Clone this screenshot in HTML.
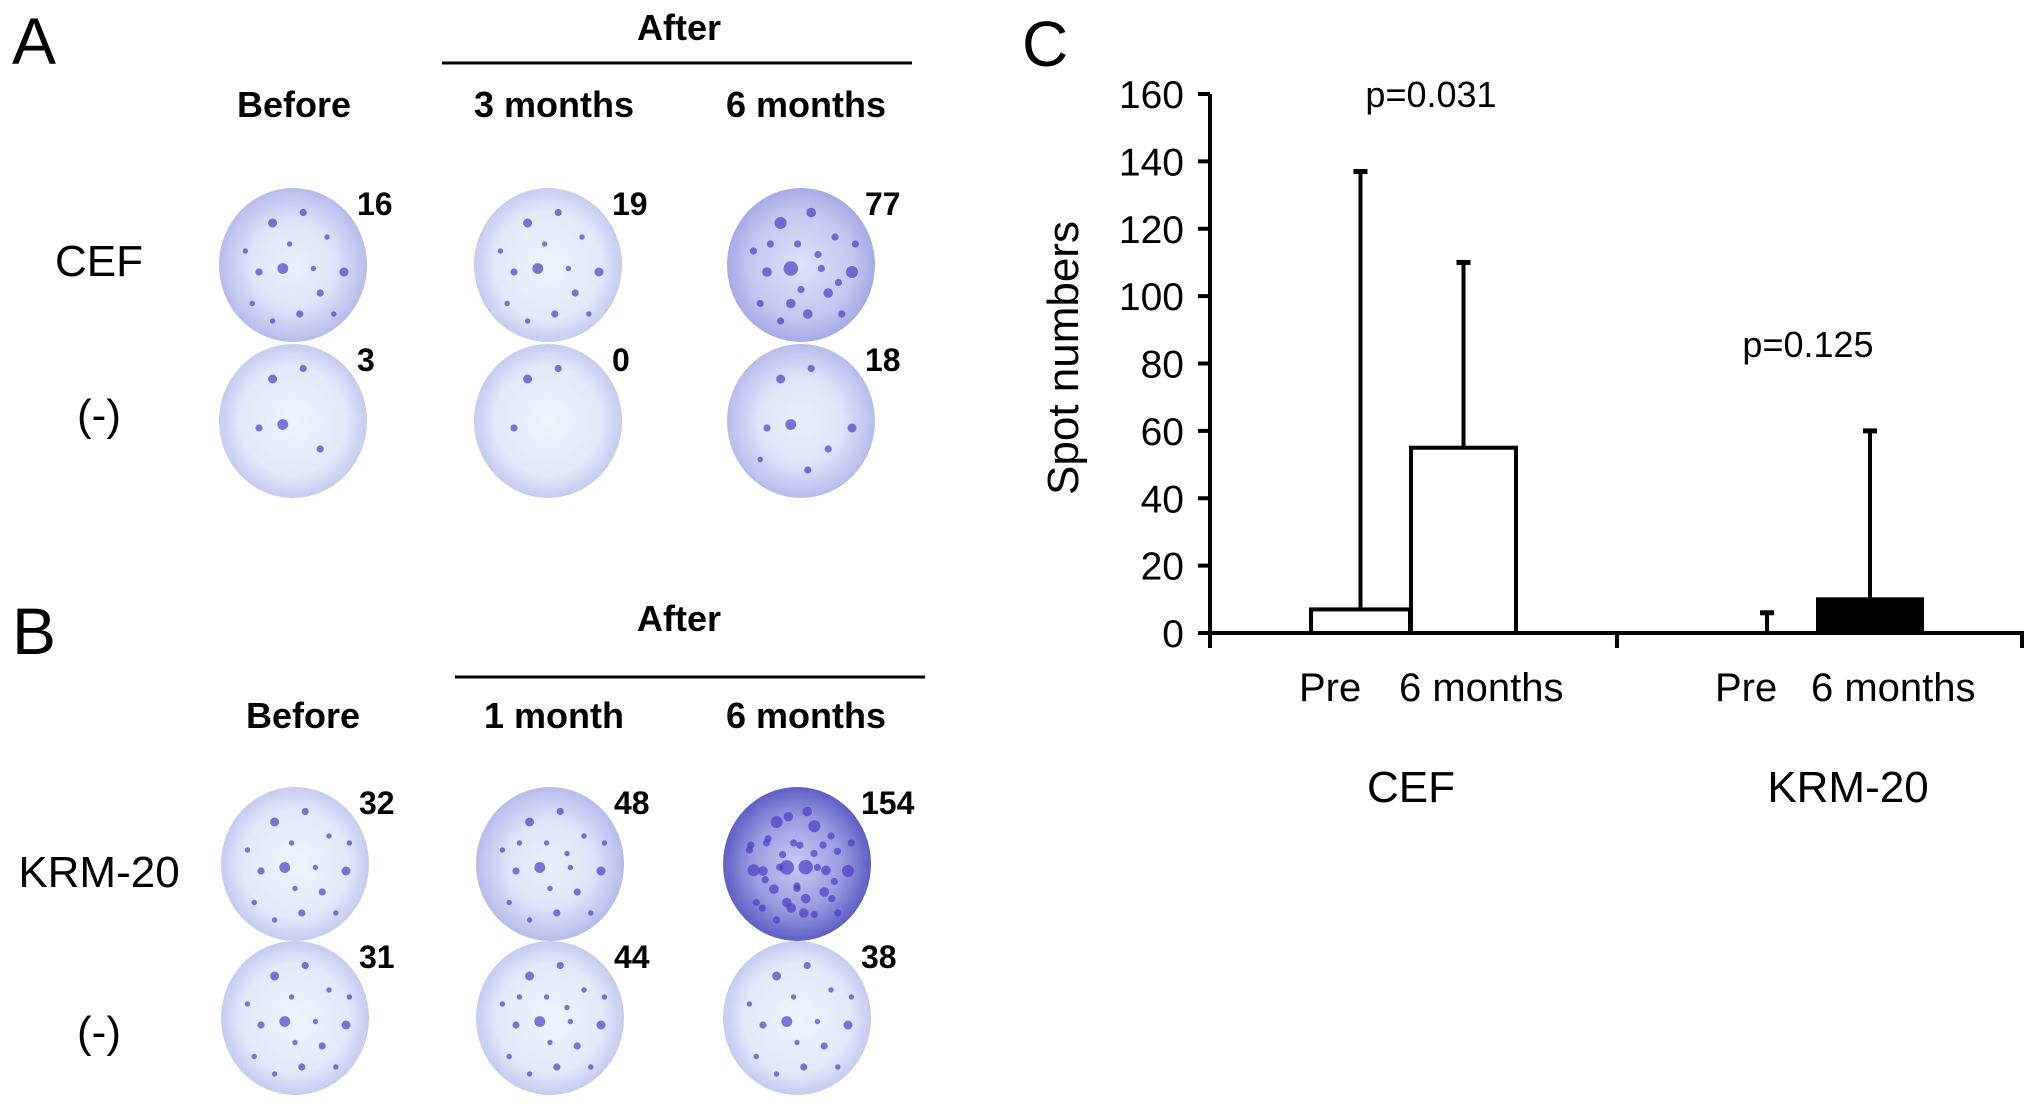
<!DOCTYPE html>
<html><head><meta charset="utf-8"><style>
html,body{margin:0;padding:0;background:#fff;}
svg{display:block;font-family:"Liberation Sans",Arial,sans-serif;}
</style></head><body>
<svg id="fig" width="2031" height="1116" viewBox="0 0 2031 1116" xmlns="http://www.w3.org/2000/svg">
<defs>
<radialGradient id="wellA" cx="50%" cy="50%" r="50%"><stop offset="0" stop-color="#e9f0fc"/><stop offset="0.55" stop-color="#dfe6fa"/><stop offset="0.85" stop-color="#c4caf0"/><stop offset="1" stop-color="#b6bcea"/></radialGradient>
<radialGradient id="wellL" cx="50%" cy="50%" r="50%"><stop offset="0" stop-color="#eef4fd"/><stop offset="0.7" stop-color="#e2eafb"/><stop offset="1" stop-color="#c6ccf0"/></radialGradient>
<radialGradient id="wellM" cx="50%" cy="50%" r="50%"><stop offset="0" stop-color="#dde3fa"/><stop offset="0.7" stop-color="#c2c7f0"/><stop offset="1" stop-color="#a6aae6"/></radialGradient>
<radialGradient id="wellD" cx="50%" cy="50%" r="50%"><stop offset="0" stop-color="#c6cbf2"/><stop offset="0.6" stop-color="#9a9ce0"/><stop offset="1" stop-color="#5e5fc6"/></radialGradient>
</defs>
<g id="panelAB"></g>
<g id="chart"></g>
</svg>
<script>
const NS="http://www.w3.org/2000/svg";
function mk(parent,tag,attrs,text){const e=document.createElementNS(NS,tag);for(const k in attrs)e.setAttribute(k,attrs[k]);if(text!==undefined)e.textContent=text;parent.appendChild(e);return e;}

// ---------- Panels A and B (wells) ----------
const P=document.getElementById('panelAB');
let t;
t=mk(P,'text',{x:12,y:64,'font-size':66});t.textContent='A';

t=mk(P,'text',{x:12,y:654,'font-size':66});t.textContent='B';


function header(y,afterY,lineY,x1,x2,cols,beforeX,pfx){
  let e=mk(P,'text',{x:679,y:afterY,'font-size':36,'font-weight':'bold','text-anchor':'middle'},'After');
  
  e=mk(P,'line',{x1:x1,x2:x2,y1:lineY,y2:lineY,stroke:'#000','stroke-width':3});
  
  e=mk(P,'text',{x:beforeX,y:y,'font-size':36,'font-weight':'bold','text-anchor':'middle'},'Before');
  
  e=mk(P,'text',{x:554,y:y,'font-size':36,'font-weight':'bold','text-anchor':'middle'},cols[0]);
  
  e=mk(P,'text',{x:806,y:y,'font-size':36,'font-weight':'bold','text-anchor':'middle'},cols[1]);
  
}
header(117,40,63,442,912,['3 months','6 months'],294,'a');
header(728,631,677,455,925,['1 month','6 months'],303,'b');

function rowLabel(txt,y,name){const e=mk(P,'text',{x:99,y:y,'font-size':44,'text-anchor':'middle'},txt);
  }
rowLabel('CEF',276,'a-cef-row-label');rowLabel('(-)',430,'a-neg-row-label');
rowLabel('KRM-20',887,'b-krm20-row-label');rowLabel('(-)',1047,'b-neg-row-label');

const spotPat=[[-.3,-.6,5],[.15,-.75,4],[-.5,.1,4],[-.15,.05,6],[.4,.4,4],[.75,.1,5],[-.6,.55,3],[.1,.7,4],[.5,-.4,3],[-.05,-.3,3],[.3,.05,3],[-.7,-.2,3],[.6,.7,3],[-.3,.8,3],[.0,.35,3],[.8,-.3,3],[-.45,-.3,3],[.25,-.15,3],[-.15,.55,4],[.55,.25,3]];
function well(cx,cy,grad,n,num,name,big){
  const g=mk(P,'g',{});
  
  mk(g,'ellipse',{cx:cx,cy:cy,rx:74,ry:77,fill:'url(#'+grad+')'});
  for(let i=0;i<n;i++){const s=spotPat[i%spotPat.length];const k=Math.floor(i/spotPat.length);
    const sx=s[0]*(k?-.85:1),sy=s[1]*(k?.9:1);
    mk(g,'circle',{cx:cx+sx*68,cy:cy+sy*70,r:s[2]*(big?1.2:0.9),fill:'#4a3fc4','fill-opacity':0.7});}
  const e=mk(P,'text',{x:cx+64,y:cy-50,'font-size':32,'font-weight':'bold'},num);
  
}
well(293,265,'wellA',14,'16','well-cef-before');
well(548,265,'wellL',14,'19','well-cef-3m');
well(801,265,'wellM',20,'77','well-cef-6m',true);
well(293,421,'wellL',5,'3','well-neg-before');
well(548,421,'wellL',3,'0','well-neg-3m');
well(801,421,'wellA',8,'18','well-neg-6m');
well(295,864,'wellL',16,'32','well-krm-before');
well(550,864,'wellA',18,'48','well-krm-1m');
well(797,864,'wellD',40,'154','well-krm-6m',true);
well(295,1018,'wellL',16,'31','well-krmneg-before');
well(550,1018,'wellL',18,'44','well-krmneg-1m');
well(797,1018,'wellL',16,'38','well-krmneg-6m');

// ---------- Panel C chart ----------
const groups=['CEF','KRM-20'];
const timepoints=['Pre','6 months'];
const means=[7,55,0,10];
const errTop=[137,110,6,60];
const fills=['#fff','#fff','#000','#000'];
const yTicks=[0,20,40,60,80,100,120,140,160];
const pValues=['p=0.031','p=0.125'];

const C=document.getElementById('chart');
const X0=1210,X1=2024,Y0=633,Y160=94;
const yScale=v=>Y0-(v/160)*(Y0-Y160);
const barLeft=[1311,1411,1717,1818];
const barW=[99,105,100,104];

t=mk(C,'text',{x:1022,y:66,'font-size':64},'C');


t=mk(C,'text',{x:0,y:0,'font-size':44,'text-anchor':'middle',transform:'translate(1078,358) rotate(-90)'},'Spot numbers');


let ax=mk(C,'line',{x1:X0,x2:X0,y1:Y160,y2:Y0+2,stroke:'#000','stroke-width':4});

ax=mk(C,'line',{x1:X0-2,x2:X1,y1:Y0,y2:Y0,stroke:'#000','stroke-width':4});

[X0,1617,X1-2].forEach((x,i)=>{const l=mk(C,'line',{x1:x,x2:x,y1:Y0,y2:Y0+15,stroke:'#000','stroke-width':4});
  });

yTicks.forEach(v=>{const y=yScale(v);
  const l=mk(C,'line',{x1:X0-12,x2:X0,y1:y,y2:y,stroke:'#000','stroke-width':4});
  
  const tx=mk(C,'text',{x:1184,y:y+14,'font-size':39,'text-anchor':'end'},String(v));
  });

means.forEach((m,i)=>{
  const x=barLeft[i],w=barW[i],y=yScale(m),ex=x+w/2;
  const e=mk(C,'line',{x1:ex,x2:ex,y1:yScale(errTop[i]),y2:y,stroke:'#000','stroke-width':4});
  
  const cap=mk(C,'line',{x1:ex-7,x2:ex+7,y1:yScale(errTop[i]),y2:yScale(errTop[i]),stroke:'#000','stroke-width':5});
  
  if(m>0){const r=mk(C,'rect',{x:x,y:y,width:w,height:Y0-y,fill:fills[i],stroke:'#000','stroke-width':4});
    
    }
});

const tpX=[[1299,1399],[1715,1811]];
groups.forEach((g,gi)=>{
  timepoints.forEach((tp,ti)=>{const e=mk(C,'text',{x:tpX[gi][ti],y:701,'font-size':40},tp);
    });
  const e=mk(C,'text',{x:gi?1848:1411,y:802,'font-size':44,'text-anchor':'middle'},g);
  
});
const pPos=[[1431,107],[1808,357]];
pValues.forEach((p,i)=>{const e=mk(C,'text',{x:pPos[i][0],y:pPos[i][1],'font-size':36,'text-anchor':'middle'},p);
  });
</script>
</body></html>
